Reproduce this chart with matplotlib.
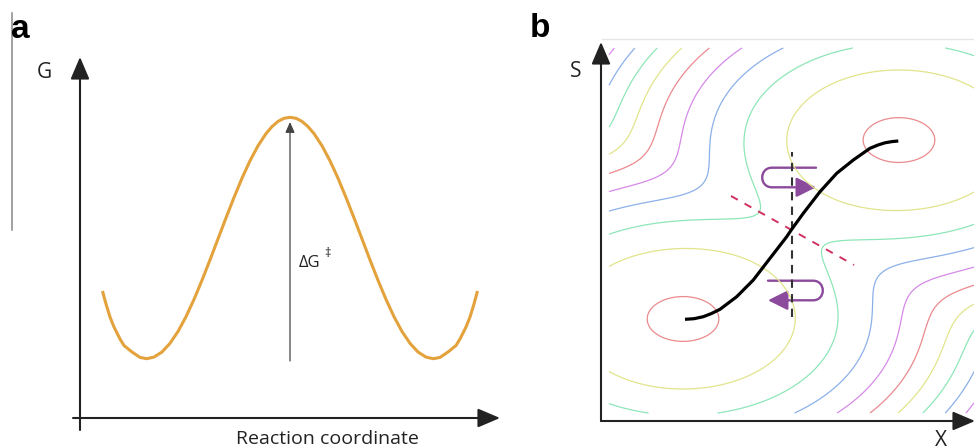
import numpy as np
import matplotlib
matplotlib.use("Agg")
import matplotlib.pyplot as plt
from matplotlib.patches import FancyArrowPatch
from matplotlib.path import Path

plt.rcParams['font.family'] = ['Open Sans', 'DejaVu Sans']

# ---- panel a: free energy profile (reaction coordinate, G) ----
rc = [22.5, 26, 30, 34, 40, 44, 52, 60, 66.7, 74, 82, 90, 98, 106, 114, 122, 130,
      138, 146, 154, 162, 170, 178, 186, 192, 198, 204, 210,
      216, 222, 228, 234, 242, 250, 258, 266, 274, 282, 290, 298, 306, 314, 322,
      330, 338, 346, 353.3, 360, 368, 376, 380, 386, 390, 394, 397.5]
G = [127, 114, 101, 91, 79, 72.5, 66, 60.6, 59.3, 60.9, 66.0, 74.7, 86.5, 101.3,
     118.6, 137.7, 158.1, 179.1, 200.1, 220.5, 239.8, 257.2, 272.2, 284.4, 291.4,
     296.6, 299.7, 300.7,
     299.7, 296.6, 291.4, 284.4, 272.2, 257.2, 239.8, 220.5, 200.1, 179.1, 158.1,
     137.7, 118.6, 101.3, 86.5, 74.7, 66.0, 60.9, 59.3, 60.6, 66, 72.5, 79, 91,
     101, 114, 127]
barrier_x = 210.0
barrier_from, barrier_to = 57.0, 296.0

# ---- panel b: two-state surface in (X, S) ----
well_x = [82.0, 298.0]
well_y = [102.0, 281.0]
well_rx, well_ry = 160.0, 100.0
softness = 0.57
levels = [0.05, 0.49, 0.93, 1.37, 1.81, 2.25, 2.69, 3.13, 3.57, 4.01, 4.45]
level_colors = ['#ea8a8e', '#e2e48c', '#8ee6b8', '#8cb0ea', '#d68ae8']

path_x = [84.0, 93.0, 102.3, 110.5, 119.0, 135.7, 152.3, 169.0, 185.7, 190.7, 202.3,
          219.0, 235.7, 252.3, 269.0, 277.0, 284.0, 291.0, 297.3]
path_y = [101.7, 102.3, 104.3, 107.5, 111.7, 124.3, 141.0, 162.7, 184.3, 191.7, 207.7,
          229.3, 247.7, 261.0, 272.7, 276.0, 278.2, 279.4, 280.0]
divider_x = 190.7
divider_y = [104.0, 269.0]
surface_x = [130.0, 253.0]
surface_y = [225.0, 156.0]

fig = plt.figure(figsize=(9.74, 4.48), dpi=100)

# panel a
ax1 = fig.add_axes([0, 0, 500 / 974, 1])
ax1.set_xlim(-80, 420)
ax1.set_ylim(-30, 418)
ax1.axis('off')

ax1.plot(rc, G, color='#e3a23b', lw=2.2, solid_capstyle='butt', solid_joinstyle='round')

axis_kw = dict(arrowstyle='-|>,head_length=0.68,head_width=0.29', mutation_scale=20,
               color='#222222', lw=1.5, clip_on=False, shrinkA=0, shrinkB=0)
ax1.add_patch(FancyArrowPatch((0, -12), (0, 361), **axis_kw))
ax1.add_patch(FancyArrowPatch((-7, 0), (420, 0), **axis_kw))

ax1.add_patch(FancyArrowPatch((barrier_x, barrier_from), (barrier_x, barrier_to),
                              arrowstyle='-|>,head_length=0.45,head_width=0.2',
                              mutation_scale=14, color='#444444', lw=0.9,
                              shrinkA=0, shrinkB=0))
ax1.text(barrier_x + 9, 151, 'ΔG', fontsize=12, color='#222222', ha='left', va='baseline')
ax1.text(barrier_x + 34, 161, '‡', fontsize=9, color='#222222', ha='left', va='baseline')

ax1.plot([-68, -68], [188, 405], color='#888888', lw=1.1)
ax1.text(-69, 380, 'a', fontsize=24, fontweight='bold', family='Liberation Sans',
         ha='left', va='baseline')
ax1.text(-36, 340, 'G', fontsize=15, ha='center', va='baseline', color='#222222')
ax1.text(247, -26, 'Reaction coordinate', fontsize=14, ha='center', va='baseline',
         color='#222222')

# panel b
ax2 = fig.add_axes([500 / 974, 0, 474 / 974, 1])
ax2.set_xlim(-101, 373)
ax2.set_ylim(-27, 421)
ax2.axis('off')

xs = np.linspace(8, 374, 500)
ys = np.linspace(8, 373, 500)
XX, YY = np.meshgrid(xs, ys)
d1 = ((XX - well_x[0]) / well_rx) ** 2 + ((YY - well_y[0]) / well_ry) ** 2
d2 = ((XX - well_x[1]) / well_rx) ** 2 + ((YY - well_y[1]) / well_ry) ** 2
V = -softness * np.logaddexp(-d1 / softness, -d2 / softness)
cols = [level_colors[i % len(level_colors)] for i in range(len(levels))]
ax2.contour(XX, YY, V, levels=levels, colors=cols, linewidths=0.9)

ax2.plot([1, 373], [382, 382], color='#e6e6e6', lw=1)

ax2.plot(divider_x * np.ones(2), divider_y, color='#333333', lw=1.5,
         linestyle=(0, (4, 3)))
ax2.plot(surface_x, surface_y, color='#d03060', lw=1.4, linestyle=(0, (4, 4)))
ax2.plot(path_x, path_y, color='black', lw=2.3, solid_capstyle='butt',
         solid_joinstyle='round')

purple = '#8b4a9c'
r = 9.8
k = 4.0 / 3.0
# upper U-turn: comes in from the right, turns back left-to-right below
cx, cy = 171.0, 243.5
up = Path([(215, cy + r), (cx, cy + r), (cx - k * r, cy + r), (cx - k * r, cy - r),
           (cx, cy - r), (215, cy - r)],
          [Path.MOVETO, Path.LINETO, Path.CURVE4, Path.CURVE4, Path.CURVE4, Path.LINETO])
# lower U-turn: comes in from the left, turns back right-to-left below
cx2, cy2 = 212.0, 130.5
lo = Path([(167, cy2 + r), (cx2, cy2 + r), (cx2 + k * r, cy2 + r), (cx2 + k * r, cy2 - r),
           (cx2, cy2 - r), (167, cy2 - r)],
          [Path.MOVETO, Path.LINETO, Path.CURVE4, Path.CURVE4, Path.CURVE4, Path.LINETO])
for p in (up, lo):
    ax2.add_patch(FancyArrowPatch(path=p, arrowstyle='-|>,head_length=0.6,head_width=0.3',
                                  mutation_scale=20, color=purple, lw=1.7,
                                  shrinkA=0, shrinkB=0))

ax2.add_patch(FancyArrowPatch((0, 0), (0, 379), **axis_kw))
ax2.add_patch(FancyArrowPatch((0, 0), (374, 0), **axis_kw))
ax2.text(-71, 384, 'b', fontsize=24, fontweight='bold', family='Liberation Sans',
         ha='left', va='baseline')
ax2.text(-25, 344, 'S', fontsize=15, ha='center', va='baseline', color='#222222')
ax2.text(340, -25, 'X', fontsize=15, ha='center', va='baseline', color='#222222')

fig.savefig('out.png', dpi=100)
